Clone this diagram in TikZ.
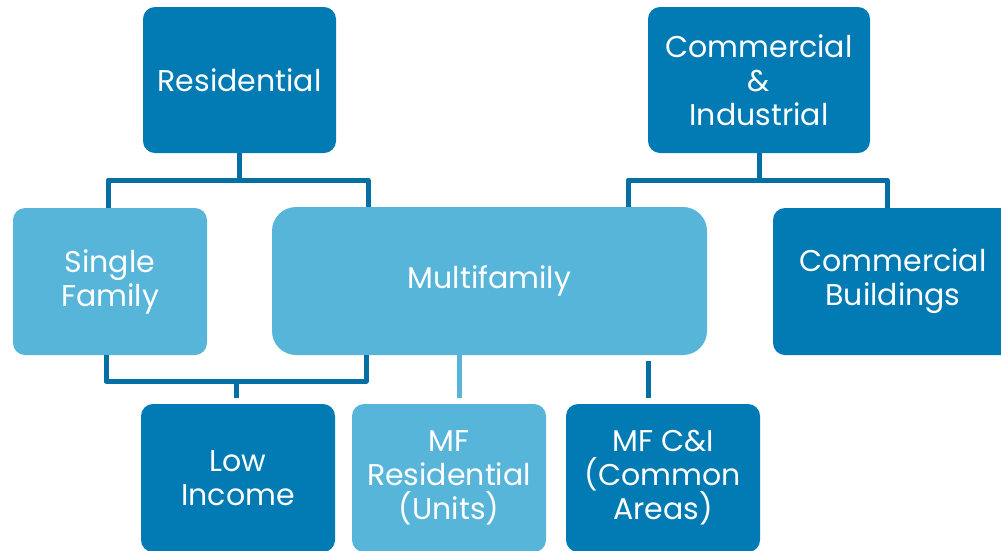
\documentclass[tikz,border=0pt]{standalone}
\usepackage{fontspec}
\setmainfont{Poppins}
\usetikzlibrary{calc}
\definecolor{darkbox}{RGB}{2,122,180}
\definecolor{lightbox}{RGB}{88,181,218}
\definecolor{connc}{RGB}{4,111,162}
\tikzset{
  box/.style={rounded corners=12pt, inner sep=0pt, align=center, text=white,
    font=\fontsize{30}{34}\selectfont},
  dk/.style={box, fill=darkbox},
  lt/.style={box, fill=lightbox},
  conn/.style={draw=connc, line width=5pt, line join=round},
  lconn/.style={draw=lightbox, line width=5pt},
}
\begin{document}
\begin{tikzpicture}[x=1pt,y=-1pt]
\useasboundingbox (0,0) rectangle (1001,550);
\node[dk, minimum width=193, minimum height=146] (res) at (239.5,80) {Residential};
\node[dk, minimum width=222, minimum height=146] (ci) at (759,80) {Commercial\\\&\\Industrial};
\node[lt, minimum width=194, minimum height=147] (sf) at (110,281.5) {Single\\Family};
\node[lt, minimum width=435, minimum height=148, rounded corners=24pt] (mf) at (489.5,281) {Multifamily};
\node[dk, minimum width=240, minimum height=147] (cb) at (893,281.5) {Commercial\\Buildings};
\node[dk, minimum width=194, minimum height=148] (li) at (238,478) {Low\\Income};
\node[lt, minimum width=194, minimum height=148] (mfr) at (449,478) {MF\\Residential\\(Units)};
\node[dk, minimum width=194, minimum height=148] (mfc) at (663,478) {MF C\&I\\(Common\\Areas)};
% Residential branch
\draw[conn] (res.south) -- ++(0,27) coordinate (rj);
\draw[conn] ($(sf.north)+(-2,0)$) |- (rj) -| ($(mf.north)+(-121.5,0)$);
% Commercial & Industrial branch
\draw[conn] (ci.south) -- ++(0,27) coordinate (cj);
\draw[conn] ($(mf.north)+(138.5,0)$) |- (cj) -| ($(cb.north)+(-6,0)$);
% Low income join
\draw[conn] ($(sf.south)+(-4,0)$) -- ++(0,26) -| ($(mf.south)+(-123.5,0)$);
\coordinate (lj) at ($(li.north)+(-2,-23)$);
\draw[conn] (lj) -- ($(li.north)+(-2,-6)$);
% MF residential
\draw[lconn] ($(mf.south)+(-30,0)$) -- ($(mfr.north)+(10.5,-6)$);
% MF C&I
\draw[conn] ($(mf.south)+(158.5,6)$) -- ($(mfc.north)+(-15,-6)$);
\end{tikzpicture}
\end{document}
